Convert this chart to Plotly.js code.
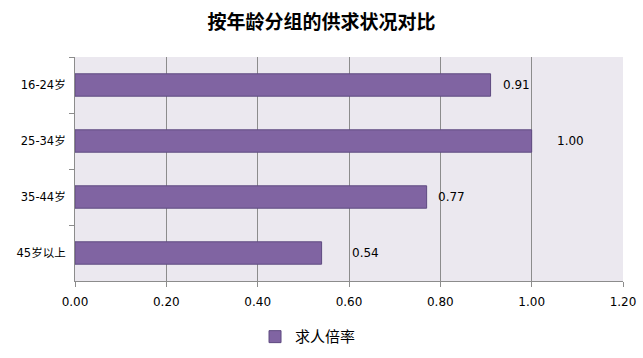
<!DOCTYPE html>
<html>
<head>
<meta charset="utf-8">
<script src="https://cdn.plot.ly/plotly-3.0.1.min.js"></script>
<style>html,body{margin:0;padding:0;background:#fff;}#chart{width:643px;height:358px;}</style>
</head>
<body>
<div id="chart"></div>
<script>
const categories = ["16-24岁", "25-34岁", "35-44岁", "45岁以上"];
const values = [0.91, 1.00, 0.77, 0.54];
const valueLabels = ["0.91", "1.00", "0.77", "0.54"];
const seriesName = "求人倍率";
const xTickVals = [0, 0.2, 0.4, 0.6, 0.8, 1.0, 1.2];
const xTickText = ["0.00", "0.20", "0.40", "0.60", "0.80", "1.00", "1.20"];

const fontFamily = "DejaVu Sans, Noto Sans CJK SC, sans-serif";
// styling: pixel gap between bar end and its label (as placed in the original)
const labelGaps = [10, 23, 9, 28];

const trace = {
  type: "bar",
  orientation: "h",
  y: categories,
  x: values,
  name: seriesName,
  marker: {color: "#8064A2", line: {color: "#5E4A80", width: 1}},
  showlegend: true,
  hoverinfo: "none"
};

const annotations = values.map((v, i) => ({
  x: v, y: categories[i], xref: "x", yref: "y",
  text: valueLabels[i], showarrow: false,
  xanchor: "left", yanchor: "middle",
  xshift: labelGaps[i],
  font: {family: fontFamily, size: 12, color: "#000"}
}));

const layout = {
  width: 643,
  height: 358,
  margin: {l: 75, r: 20, t: 57, b: 77},
  paper_bgcolor: "#ffffff",
  plot_bgcolor: "#EBE8EF",
  bargap: 0.6,
  annotations: annotations,
  title: {
    text: "<b>按年龄分组的供求状况对比</b>",
    font: {family: "Noto Sans CJK SC, sans-serif", size: 19, color: "#000"},
    x: 0.5, xanchor: "center", y: 0.937, yanchor: "middle"
  },
  xaxis: {
    range: [0, 1.2],
    tickmode: "array",
    tickvals: xTickVals,
    ticktext: xTickText,
    showgrid: true,
    gridcolor: "#8C8C8C",
    gridwidth: 1,
    zeroline: false,
    showline: true,
    linecolor: "#8C8C8C",
    linewidth: 1,
    ticks: "outside",
    ticklen: 5,
    tickcolor: "#8C8C8C",
    tickfont: {family: fontFamily, size: 12, color: "#000"},
    ticklabelstandoff: 5,
    automargin: false,
    fixedrange: true
  },
  yaxis: {
    type: "category",
    autorange: "reversed",
    showline: true,
    linecolor: "#8C8C8C",
    linewidth: 1,
    ticks: "outside",
    tickson: "boundaries",
    ticklen: 5,
    tickcolor: "#8C8C8C",
    showgrid: false,
    tickfont: {family: fontFamily, size: 11.5, color: "#000"},
    ticklabelstandoff: 6,
    automargin: false,
    fixedrange: true
  },
  legend: {
    orientation: "h",
    x: 0.3285, xanchor: "left", xref: "paper",
    y: 0.059, yanchor: "middle", yref: "container",
    itemwidth: 30,
    font: {family: "Noto Sans CJK SC, sans-serif", size: 15, color: "#000"},
    bgcolor: "rgba(0,0,0,0)"
  },
  showlegend: true
};

Plotly.newPlot("chart", [trace], layout, {displayModeBar: false, staticPlot: true});
</script>
</body>
</html>
